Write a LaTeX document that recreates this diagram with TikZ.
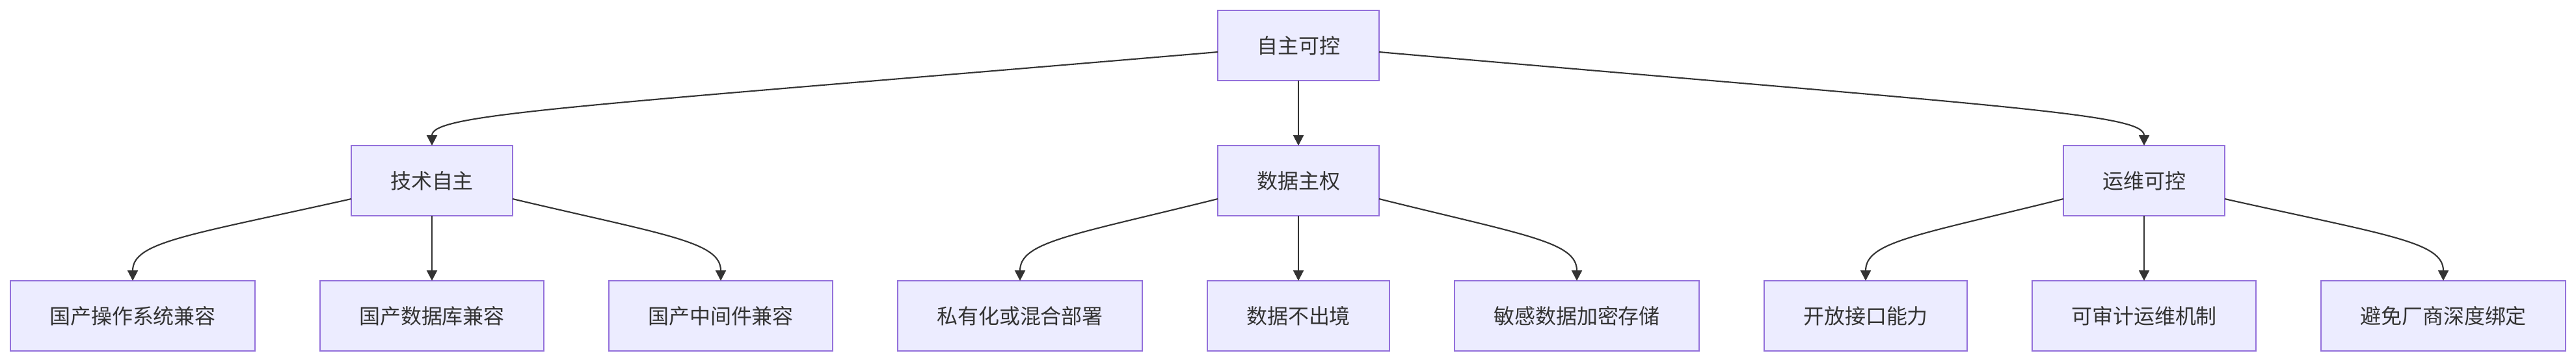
\documentclass[tikz,border=0pt]{standalone}
\usepackage{fontspec}
\newfontfamily\cjk{Noto Sans CJK SC}
\usepackage{tikz}
\usetikzlibrary{arrows.meta,positioning}
\definecolor{NodeFill}{HTML}{ECECFF}
\definecolor{NodeLine}{HTML}{9370DB}
\definecolor{EdgeGray}{HTML}{333333}
\definecolor{TextGray}{HTML}{333333}

\begin{document}
\begin{tikzpicture}[
    goal/.style={
      draw=NodeLine,
      fill=NodeFill,
      line width=0.6pt,
      minimum height=1.08cm,
      inner xsep=0.6cm,
      outer sep=0pt,
      text=TextGray,
      font=\cjk\fontsize{9.1}{11}\selectfont
    },
    arrow/.style={
      -{Triangle[length=0.16cm,width=0.16cm]},
      line width=0.6pt,
      color=EdgeGray
    }
  ]
  \useasboundingbox (0,0) rectangle (39.6,-5.56);

  % Root
  \node[goal] (root) at (19.96,-0.70) {自主可控};

  % Three pillars
  \node[goal] (tech) at (6.64,-2.78)  {技术自主};
  \node[goal] (data) at (19.96,-2.78) {数据主权};
  \node[goal] (ops)  at (32.96,-2.78) {运维可控};

  % Leaves
  \node[goal] (os)     at (2.04,-4.86)  {国产操作系统兼容};
  \node[goal] (db)     at (6.64,-4.86)  {国产数据库兼容};
  \node[goal] (mw)     at (11.08,-4.86) {国产中间件兼容};
  \node[goal] (priv)   at (15.68,-4.86) {私有化或混合部署};
  \node[goal] (local)  at (19.96,-4.86) {数据不出境};
  \node[goal] (enc)    at (24.24,-4.86) {敏感数据加密存储};
  \node[goal] (api)    at (28.68,-4.86) {开放接口能力};
  \node[goal] (audit)  at (32.96,-4.86) {可审计运维机制};
  \node[goal] (lockin) at (37.56,-4.86) {避免厂商深度绑定};

  % Root to pillars
  \draw[arrow] ([yshift=-0.1cm]root.west) .. controls +(-10.0,-0.85) and +(0,0.49) .. (tech.north);
  \draw[arrow] (root) -- (data);
  \draw[arrow] ([yshift=-0.1cm]root.east) .. controls +(9.75,-0.85) and +(0,0.49) .. (ops.north);

  % Pillars to leaves
  \draw[arrow] ([yshift=-0.28cm]tech.west) .. controls +(-2.5,-0.56) and +(0,0.6) .. (os.north);
  \draw[arrow] (tech) -- (db);
  \draw[arrow] ([yshift=-0.28cm]tech.east) .. controls +(2.37,-0.56) and +(0,0.6) .. (mw.north);

  \draw[arrow] ([yshift=-0.28cm]data.west) .. controls +(-2.25,-0.56) and +(0,0.6) .. (priv.north);
  \draw[arrow] (data) -- (local);
  \draw[arrow] ([yshift=-0.28cm]data.east) .. controls +(2.25,-0.56) and +(0,0.6) .. (enc.north);

  \draw[arrow] ([yshift=-0.28cm]ops.west) .. controls +(-2.25,-0.56) and +(0,0.6) .. (api.north);
  \draw[arrow] (ops) -- (audit);
  \draw[arrow] ([yshift=-0.28cm]ops.east) .. controls +(2.5,-0.56) and +(0,0.6) .. (lockin.north);

\end{tikzpicture}
\end{document}
